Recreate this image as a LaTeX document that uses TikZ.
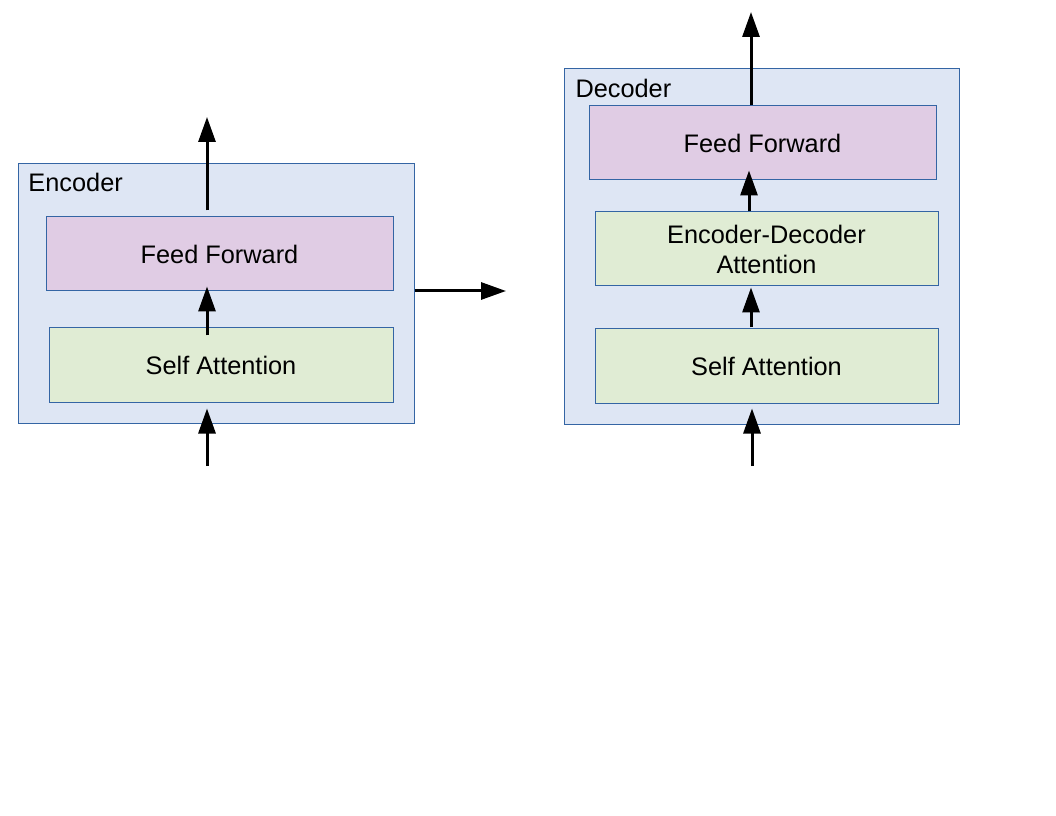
\documentclass[tikz,border=0pt]{standalone}
\usepackage{fontspec}
\setmainfont{Liberation Sans}
\usetikzlibrary{arrows.meta,calc}

\definecolor{paleblue}{HTML}{DEE6F4}
\definecolor{edgeblue}{HTML}{3465A4}
\definecolor{palepurple}{HTML}{E0CCE4}
\definecolor{palegreen}{HTML}{E0ECD4}

\tikzset{every picture/.style={line width=0.75pt}}
\tikzset{
	stackbox/.style={draw=edgeblue, fill=paleblue, inner sep=0pt},
	layerbox/.style={draw=edgeblue, inner sep=0pt, minimum height=55.5pt, align=center, font=\fontsize{19}{22.5}\selectfont},
	ffbox/.style={layerbox, fill=palepurple},
	attbox/.style={layerbox, fill=palegreen},
	flow/.style={line width=2.25pt, -{Triangle[length=18.75pt,width=12.75pt]}}
}

\begin{document}
\begin{tikzpicture}[x=0.75pt,y=0.75pt,yscale=-1,xscale=1]
	\useasboundingbox (0,0) rectangle (1056,816);

	% Encoder
	\node [stackbox, minimum width=297pt, minimum height=194.25pt] (enc) at (216,293.5) {};
	\node [anchor=base west, inner sep=0pt, font=\fontsize{19}{22.5}\selectfont] (enclabel) at (28,192) {Encoder};
	% Text Node
	\node [ffbox, minimum width=260.25pt] (encff) at (219.5,254) {Feed Forward};
	% Text Node
	\node [attbox, minimum width=258pt] (encsa) at (221,365) {Self Attention};

	% Decoder
	\node [stackbox, minimum width=296.25pt, minimum height=266.25pt] (dec) at (761.5,246.5) {};
	\node [anchor=base west, inner sep=0pt, font=\fontsize{19}{22.5}\selectfont] (declabel) at (575,98) {Decoder};
	% Text Node
	\node [ffbox, minimum width=260.25pt] (decff) at (762.5,143) {Feed Forward};
	% Text Node
	\node [attbox, minimum width=257.25pt] (decencdec) at (766.5,249) {Encoder-Decoder\\Attention};
	% Text Node
	\node [attbox, minimum width=257.25pt] (decsa) at (766.5,366) {Self Attention};

	% free ends
	\coordinate (encin) at (207,466);
	\coordinate (encout) at (207,117);
	\coordinate (enctodec) at (506,291);
	\coordinate (decin) at (752,466);
	\coordinate (decout) at (751,12);

	% Connection
	\draw [flow] (encin) -- ($(encsa.south)+(-14,6)$);
	\draw [flow] ($(encsa.north)+(-14,8)$) -- ($(encff.south)+(-12.5,-5)$);
	\draw [flow] ($(encff.north)+(-12.5,-6)$) -- (encout);
	\draw [flow] ($(enc.east)+(0,-2.5)$) -- (enctodec);
	% Connection
	\draw [flow] (decin) -- ($(decsa.south)+(-14.5,5)$);
	\draw [flow] ($(decsa.north)+(-15.5,-1)$) -- ($(decencdec.south)+(-15.5,1)$);
	\draw [flow] ($(decencdec.north)+(-17.5,0)$) -- ($(decff.south)+(-13.5,-10)$);
	\draw [flow] ($(decff.north)+(-11.5,0)$) -- (decout);

\end{tikzpicture}
\end{document}
